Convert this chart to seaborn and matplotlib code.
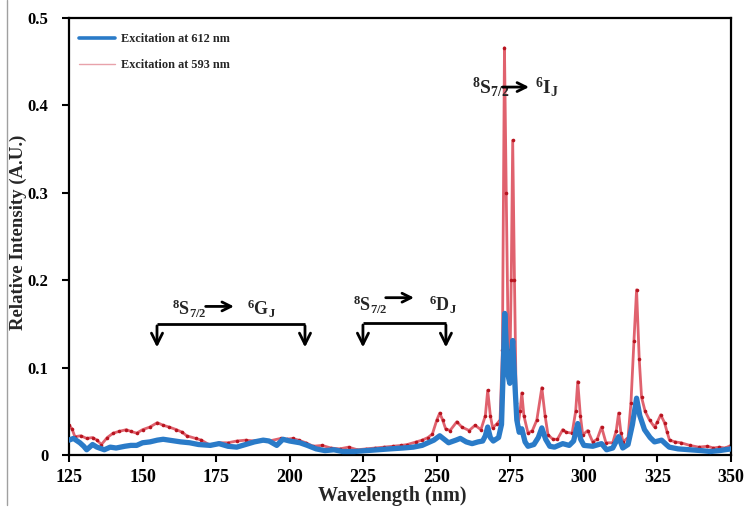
import matplotlib
matplotlib.use("Agg")
import matplotlib.pyplot as plt
import seaborn as sns
from matplotlib.lines import Line2D
from matplotlib.ticker import FuncFormatter

# Excitation spectra
wl_593 = [125, 126, 127, 129, 131, 133, 134.5, 136, 138, 140, 142, 144.5, 146, 148, 150,
          152.5, 155, 157, 159, 161.5, 163.5, 165, 168, 170, 173, 176, 179, 182, 185, 188,
          191, 193, 197, 199, 201, 203, 205.5, 208, 211, 214, 217, 220, 223, 226, 229,
          232, 235, 238, 240, 243, 245, 247, 248.5, 250, 251, 252, 253, 254.5, 256.8,
          258.5, 261, 263, 265, 266.5, 267.3, 268.2, 269, 270.5, 271.5, 272.3, 273.0,
          273.6, 274.3, 274.8, 275.3, 275.8, 276.4, 277.0, 277.6, 278.3, 278.9, 279.6,
          281, 282.5, 284, 285.7, 286.8, 287.8, 289.5, 291, 292.8, 294, 296, 297.2, 297.9,
          298.8, 299.6, 301.3, 303, 304.5, 306, 307.5, 309.8, 311, 311.8, 312.6, 313.3,
          315, 316, 317, 317.9, 318.8, 319.6, 320.8, 322.3, 324, 325, 326.1, 327.4, 328.3,
          329.1, 331, 333, 336, 339, 342, 344, 346, 348, 350]
int_593 = [0.034, 0.030, 0.021, 0.022, 0.019, 0.020, 0.017, 0.012, 0.020, 0.025, 0.027,
           0.029, 0.027, 0.025, 0.029, 0.032, 0.037, 0.034, 0.032, 0.029, 0.026, 0.022,
           0.019, 0.017, 0.011, 0.014, 0.014, 0.016, 0.017, 0.016, 0.017, 0.016, 0.019,
           0.018, 0.019, 0.017, 0.014, 0.010, 0.011, 0.008, 0.007, 0.009, 0.006, 0.007,
           0.008, 0.009, 0.010, 0.011, 0.012, 0.015, 0.017, 0.020, 0.024, 0.040, 0.048,
           0.040, 0.030, 0.028, 0.038, 0.032, 0.028, 0.034, 0.029, 0.045, 0.074, 0.045,
           0.031, 0.036, 0.040, 0.120, 0.466, 0.300, 0.120, 0.090, 0.200, 0.360, 0.200,
           0.060, 0.033, 0.050, 0.071, 0.045, 0.025, 0.028, 0.040, 0.077, 0.045, 0.023,
           0.018, 0.018, 0.029, 0.026, 0.025, 0.050, 0.084, 0.045, 0.023, 0.028, 0.015,
           0.018, 0.032, 0.014, 0.014, 0.028, 0.048, 0.025, 0.015, 0.020, 0.060, 0.130,
           0.189, 0.110, 0.066, 0.050, 0.040, 0.032, 0.038, 0.046, 0.037, 0.026, 0.017,
           0.015, 0.014, 0.011, 0.009, 0.010, 0.008, 0.009, 0.008, 0.011]

wl_612 = [125, 126.5, 128.7, 130, 131, 133, 134.5, 137, 139, 141, 144, 146, 148, 150,
          152.5, 155, 157, 159, 161, 163, 166, 169, 173, 176, 179, 182, 185, 188, 191, 193,
          195.6, 197.7, 200, 203.5, 206, 209, 212, 215, 218, 222, 226, 230, 234, 238.5,
          242, 245, 247, 249, 251, 252.5, 254, 256.5, 258, 260, 262, 264, 265.6, 266.5,
          267.3, 268.2, 269.2, 271, 272, 272.6, 273.1, 273.7, 274.3, 274.8, 275.3, 275.8,
          276.4, 277.2, 278, 278.9, 280, 281, 283, 284.5, 285.7, 287, 288.4, 290, 292.8,
          295, 296.5, 297.9, 298.9, 300, 303, 306, 307.7, 309.8, 311.8, 313.2, 315, 316.5,
          317.9, 319, 320.6, 322.5, 324, 326.4, 328, 329, 332, 336, 340, 343, 346, 350]
int_612 = [0.017, 0.019, 0.014, 0.010, 0.006, 0.012, 0.009, 0.006, 0.009, 0.008, 0.010,
           0.011, 0.011, 0.014, 0.015, 0.017, 0.018, 0.017, 0.016, 0.015, 0.014, 0.012,
           0.011, 0.013, 0.010, 0.009, 0.012, 0.015, 0.017, 0.016, 0.011, 0.018, 0.016,
           0.014, 0.011, 0.007, 0.005, 0.006, 0.004, 0.004, 0.005, 0.006, 0.007, 0.008,
           0.009, 0.011, 0.014, 0.017, 0.022, 0.018, 0.014, 0.017, 0.019, 0.015, 0.013,
           0.015, 0.016, 0.022, 0.032, 0.020, 0.016, 0.020, 0.035, 0.100, 0.162, 0.120,
           0.090, 0.082, 0.110, 0.131, 0.090, 0.040, 0.026, 0.030, 0.015, 0.010, 0.012,
           0.020, 0.031, 0.018, 0.010, 0.009, 0.013, 0.011, 0.016, 0.036, 0.018, 0.011,
           0.010, 0.013, 0.006, 0.008, 0.021, 0.008, 0.012, 0.035, 0.065, 0.045, 0.029,
           0.020, 0.015, 0.017, 0.012, 0.009, 0.007, 0.006, 0.005, 0.004, 0.005, 0.007]

x_ticks = [125, 150, 175, 200, 225, 250, 275, 300, 325, 350]
y_ticks = [0, 0.1, 0.2, 0.3, 0.4, 0.5]
labels = ["Excitation at 612 nm", "Excitation at 593 nm"]

BLUE = "#2a7bc8"
RED_LINE = "#e0626e"
RED_DOT = "#b8141f"

sns.set_style("ticks")
plt.rcParams["font.family"] = ["Liberation Serif", "DejaVu Serif"]
plt.rcParams["font.weight"] = "bold"
plt.rcParams["mathtext.fontset"] = "custom"
plt.rcParams["mathtext.rm"] = "Liberation Serif:bold"
plt.rcParams["mathtext.bf"] = "Liberation Serif:bold"
plt.rcParams["mathtext.it"] = "Liberation Serif:bold:italic"
plt.rcParams["mathtext.default"] = "rm"

fig = plt.figure(figsize=(7.47, 5.15), dpi=100)
ax = fig.add_axes([0.0924, 0.1165, 0.8862, 0.8485])

sns.lineplot(x=wl_612, y=int_612, ax=ax, color=BLUE, lw=3.8, zorder=3)
sns.lineplot(x=wl_593, y=int_593, ax=ax, color=RED_LINE, lw=2.0, marker="o",
             markersize=2.6, markeredgewidth=0, markerfacecolor=RED_DOT, zorder=2)

ax.set_xlim(125, 350)
ax.set_ylim(0, 0.5)
ax.set_xticks(x_ticks)
ax.set_yticks(y_ticks)
ax.yaxis.set_major_formatter(FuncFormatter(lambda v, p: "0" if v == 0 else f"{v:.1f}"))
ax.tick_params(direction="out", length=5, width=1.5, labelsize=13, pad=5, colors="black")
ax.tick_params(axis="y", pad=10, labelsize=12)
for lab in ax.get_xticklabels() + ax.get_yticklabels():
    lab.set_fontweight("bold")
for s in ax.spines.values():
    s.set_visible(True)
    s.set_linewidth(1.6)
    s.set_color("black")

ax.set_xlabel("Wavelength (nm)", fontsize=14.5, fontweight="bold")
ax.set_ylabel("Relative Intensity (A.U.)", fontsize=13.5, fontweight="bold")
ax.xaxis.set_label_coords(0.488, -0.072)
ax.yaxis.set_label_coords(-0.063, 0.51)

handles = [Line2D([], [], color=BLUE, lw=2.6), Line2D([], [], color="#e8a2aa", lw=1.0)]
ax.legend(handles, labels, loc="upper left", bbox_to_anchor=(-0.002, 0.99), frameon=False,
          prop={"family": "Liberation Serif", "weight": "bold", "size": 8.8},
          handlelength=3.0, handletextpad=0.45, labelspacing=1.1, borderpad=0.4)


def transition(x_left, y_base, x_a0, x_a1, y_arrow, x_right, final, size=13):
    ax.text(x_left, y_base, r"$^{8}$S$_{7/2}$", fontsize=size, fontweight="bold", va="baseline")
    ax.annotate("", xy=(x_a1, y_arrow), xytext=(x_a0, y_arrow),
                arrowprops=dict(arrowstyle="->", lw=2, color="black", mutation_scale=16))
    ax.text(x_right, y_base, r"$^{6}$" + final[0] + r"$_{J}$", fontsize=size,
            fontweight="bold", va="baseline")


def bracket(x0, x1, y_top, y_tip):
    ax.plot([x0, x1], [y_top, y_top], color="black", lw=2, solid_capstyle="butt")
    for xx in (x0, x1):
        ax.annotate("", xy=(xx, y_tip), xytext=(xx, y_top + 0.001),
                    arrowprops=dict(arrowstyle="->", lw=2, color="black", mutation_scale=20))


transition(160.0, 0.160, 170.5, 182.0, 0.170, 185.5, "G")
bracket(154.9, 205.2, 0.150, 0.120)
transition(221.5, 0.164, 231.7, 243.2, 0.180, 247.3, "D")
bracket(224.9, 253.1, 0.151, 0.120)
transition(261.9, 0.414, 271.4, 282.3, 0.421, 283.3, "I", size=14)

fig.add_artist(Line2D([7 / 747, 7 / 747], [0.02, 1.0], color="#a0a0a0", lw=1.0))

fig.savefig("out.png", dpi=100)
